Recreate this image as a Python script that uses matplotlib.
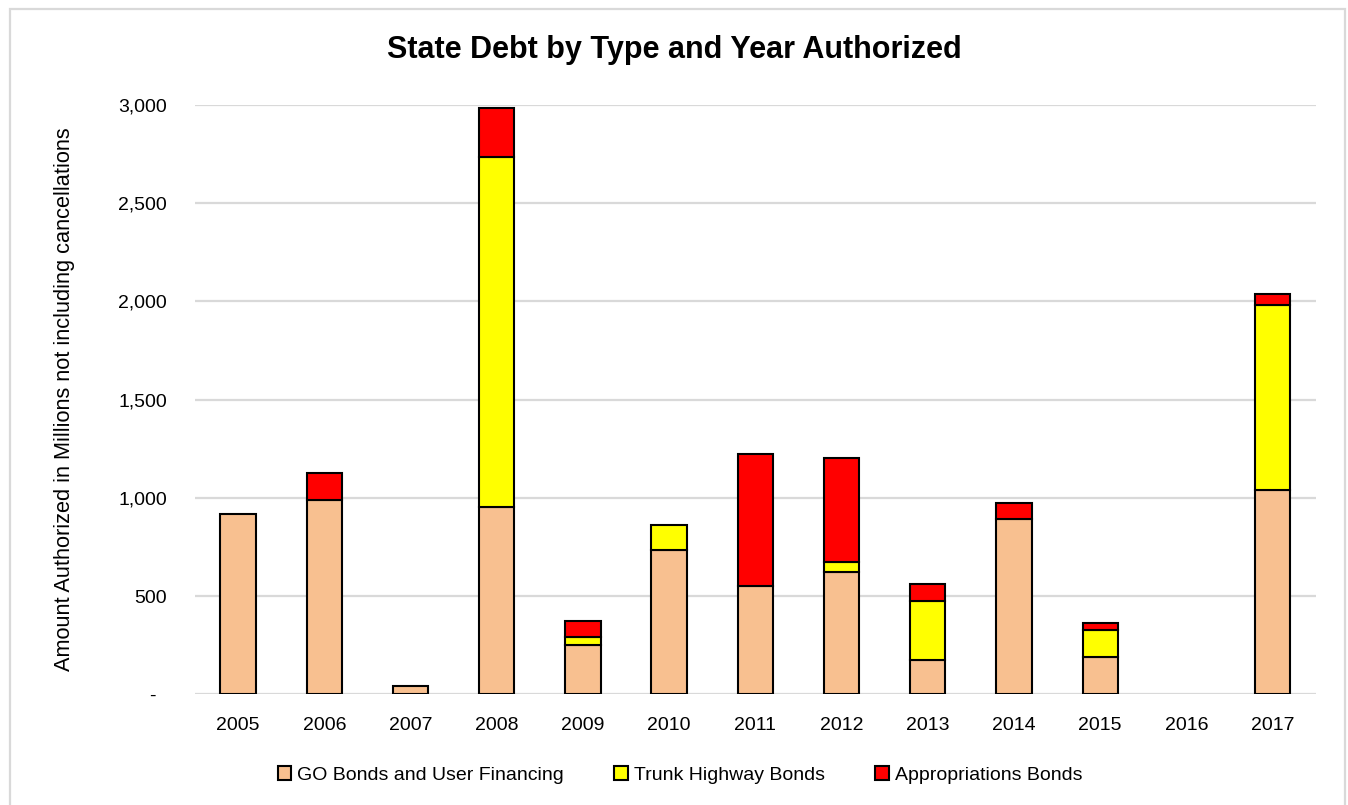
import numpy as np
import matplotlib.pyplot as plt
from matplotlib.patches import Rectangle, Patch

# values (millions)
years = ["2005", "2006", "2007", "2008", "2009", "2010", "2011",
         "2012", "2013", "2014", "2015", "2016", "2017"]
go_bonds = [918, 990, 42, 954, 252, 737, 552, 622, 176, 893, 190, 0, 1039]
trunk_hwy = [0, 0, 0, 1780, 41, 126, 0, 52, 300, 0, 139, 0, 941]
approp = [0, 139, 0, 251, 80, 0, 672, 531, 85, 82, 32, 0, 60]

series_names = ["GO Bonds and User Financing", "Trunk Highway Bonds", "Appropriations Bonds"]
colors = ["#F8C090", "#FFFF00", "#FF0000"]

fonts = ["Liberation Sans", "DejaVu Sans"]

fig = plt.figure(figsize=(13.48, 8.05), dpi=100)
fig.patches.append(Rectangle((10 / 1348, -0.01), (1345 - 10) / 1348, 1 - 9 / 805 + 0.01,
                             transform=fig.transFigure, fill=False,
                             edgecolor="#d9d9d9", linewidth=1.6))

ax = fig.add_axes([195 / 1348, 1 - 694.3 / 805, (1315.7 - 195) / 1348, (694.3 - 105) / 805])

x = np.arange(len(years))
w = 0.41
bottom = np.zeros(len(years))
for vals, name, col in zip([go_bonds, trunk_hwy, approp], series_names, colors):
    vals = np.array(vals, dtype=float)
    # no outline for empty segments
    edges = ["black" if v > 0 else "none" for v in vals]
    ax.bar(x, vals, w, bottom=bottom, color=col, edgecolor=edges,
           linewidth=1.5, zorder=3)
    bottom += vals

ax.set_xlim(-0.5, len(years) - 0.5)
ax.set_ylim(0, 3000)
ax.set_yticks(np.arange(0, 3001, 500))
ax.set_yticklabels(["-  " if v == 0 else f"{v:,}" for v in range(0, 3001, 500)],
                   family=fonts, fontsize=14)
ax.set_xticks(x)
ax.set_xticklabels(years, family=fonts, fontsize=14)
ax.tick_params(axis="y", length=0, pad=20)
ax.tick_params(axis="x", length=0, pad=16)
ax.grid(axis="y", color="#d9d9d9", linewidth=1.6, zorder=0)
for s in ax.spines.values():
    s.set_visible(False)

ax.set_ylabel("Amount Authorized in Millions not including cancellations",
              family=fonts, fontsize=15.7, labelpad=31)

fig.text(0.5, 1 - 50 / 805, "State Debt by Type and Year Authorized",
         ha="center", va="center", family=fonts, fontsize=22, fontweight="bold")

handles = [Patch(facecolor=c, edgecolor="black", linewidth=1.5) for c in colors]
fig.legend(handles, series_names, loc="center",
           bbox_to_anchor=(680 / 1348, 1 - 775 / 805), ncol=3,
           frameon=False, prop={"family": fonts, "size": 14},
           handlelength=0.7, handleheight=0.7, handletextpad=0.3,
           columnspacing=2.6)

fig.savefig("out.png", dpi=100)
